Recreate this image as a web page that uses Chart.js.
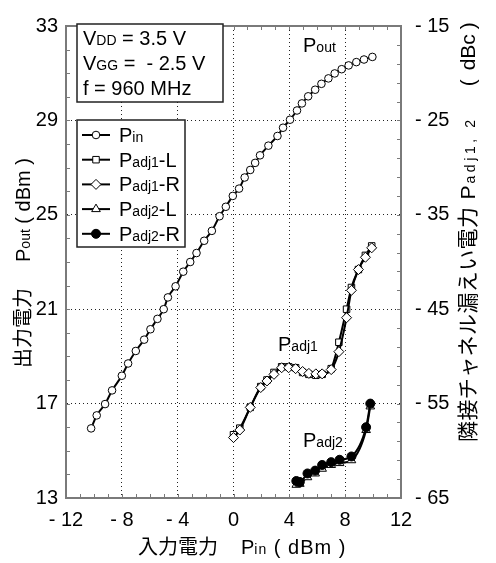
<!DOCTYPE html>
<html>
<head>
<meta charset="utf-8">
<script src="https://cdn.jsdelivr.net/npm/chart.js@4.4.1/dist/chart.umd.min.js"></script>
<style>
    html, body { margin: 0; padding: 0; background: #fff; }
    #wrap { width: 496px; height: 563px; }
</style>
</head>
<body>
<div id="wrap"><canvas id="chart" width="496" height="563"></canvas></div>
<script>
// Pout vs Pin (legend calls it Pin)
const pinOut = [-10.2, -9.8, -9.2, -8.7, -8.0, -7.55, -7.0, -6.4, -5.95, -5.45, -5.0, -4.7, -4.15, -3.6, -3.1,
    -2.65, -2.1, -1.55, -1.0, -0.55, -0.05, 0.4, 0.8, 1.2, 1.55, 1.9, 2.5, 3.15, 3.55, 4.05, 4.55, 4.9,
    5.35, 5.85, 6.3, 6.8, 7.25, 7.75, 8.25, 8.8, 9.35, 9.95];
const pout = [15.95, 16.5, 16.98, 17.56, 18.18, 18.7, 19.23, 19.71, 20.15, 20.59, 21.0, 21.5, 21.97, 22.59, 23.0,
    23.38, 23.9, 24.32, 24.94, 25.34, 25.8, 26.11, 26.58, 26.9, 27.2, 27.52, 27.93, 28.34, 28.69, 29.03, 29.42, 29.72,
    30.02, 30.3, 30.55, 30.78, 30.99, 31.17, 31.33, 31.47, 31.58, 31.69];

// adjacent channel leakage (dBc), right axis
const pinAdj1 = [0.0, 0.45, 1.2, 1.95, 2.4, 2.9, 3.45, 3.95, 4.45, 4.95, 5.4, 5.9, 6.35, 7.0, 7.55, 8.1, 8.45, 8.95, 9.45, 9.9];
const adj1L = [-58.3, -57.6, -55.4, -53.2, -52.5, -51.7, -51.1, -51.1, -51.2, -51.7, -51.9, -52.0, -51.9, -51.3, -48.5, -45.0, -42.7, -40.8, -39.3, -38.3];
const adj1R = [-58.6, -57.8, -55.4, -53.3, -52.6, -51.9, -51.2, -51.2, -51.3, -51.6, -51.8, -51.85, -51.85, -51.4, -49.5, -45.9, -43.0, -40.8, -39.5, -38.5];

const pinAdj2 = [4.5, 4.75, 5.3, 5.85, 6.35, 7.0, 7.6, 8.45, 9.5, 9.8];
const adj2L = [-63.6, -63.5, -62.8, -62.4, -61.9, -61.5, -61.3, -61.0, -57.8, -55.3];
const adj2R = [-63.2, -63.3, -62.4, -62.1, -61.5, -61.2, -60.95, -60.6, -57.5, -55.0];

const xTicks = [-12, -8, -4, 0, 4, 8, 12];
const yTicks = [13, 17, 21, 25, 29, 33];
const y2Ticks = [-65, -55, -45, -35, -25, -15];

const FONT = '"Liberation Sans", "Noto Sans CJK JP", sans-serif';
const FRAME = '#7a7a7a';

const pts = (xs, ys) => xs.map((x, i) => ({ x: x, y: ys[i] }));
const fmt = v => v < 0 ? '- ' + Math.abs(v) : String(v);

// text runs: [text, small?, gapBefore, letterSpacing]; small runs share the baseline
function drawRich(ctx, parts, x, y, size) {
    let cx = x;
    parts.forEach(([t, sub, gap, ls]) => {
        cx += gap || 0;
        ctx.font = (sub ? Math.round(size * 0.68) : size) + 'px ' + FONT;
        ctx.letterSpacing = (ls || 0) + 'px';
        ctx.fillText(t, cx, y);
        cx += ctx.measureText(t).width;
        ctx.letterSpacing = '0px';
    });
}
function drawVertical(ctx, parts, x, y, size) {
    ctx.save();
    ctx.translate(x, y);
    ctx.rotate(-Math.PI / 2);
    drawRich(ctx, parts, 0, 0, size);
    ctx.restore();
}

const series = [
    { label: [['P', 0], ['in', 1]], data: pts(pinOut, pout), axis: 'y', style: 'circle', r: 3.8, fill: '#fff', order: 1 },
    { label: [['P', 0], ['adj1', 1], ['-L', 0]], data: pts(pinAdj1, adj1L), axis: 'y2', style: 'rect', r: 4.6, fill: '#fff', order: 3 },
    { label: [['P', 0], ['adj1', 1], ['-R', 0]], data: pts(pinAdj1, adj1R), axis: 'y2', style: 'rectRot', r: 5, fill: '#fff', order: 2 },
    { label: [['P', 0], ['adj2', 1], ['-L', 0]], data: pts(pinAdj2, adj2L), axis: 'y2', style: 'triangle', r: 5, fill: '#fff', order: 5 },
    { label: [['P', 0], ['adj2', 1], ['-R', 0]], data: pts(pinAdj2, adj2R), axis: 'y2', style: 'circle', r: 4.5, fill: '#000', order: 4 },
];

const frameTicks = {
    id: 'frameTicks',
    afterDraw(chart) {
        const { ctx, chartArea: a, scales } = chart;
        ctx.save();
        ctx.strokeStyle = FRAME;
        ctx.lineWidth = 1;
        ctx.beginPath();
        for (let v = -12; v <= 12; v++) {
            const px = Math.round(scales.x.getPixelForValue(v)) + 0.5;
            ctx.moveTo(px, a.bottom); ctx.lineTo(px, a.bottom - 4);
            ctx.moveTo(px, a.top); ctx.lineTo(px, a.top + 4);
        }
        for (let v = 13; v <= 33; v++) {
            const py = Math.round(scales.y.getPixelForValue(v)) + 0.5;
            ctx.moveTo(a.left, py); ctx.lineTo(a.left + 4, py);
        }
        for (let v = -65; v <= -15; v += 2) {
            const py = Math.round(scales.y2.getPixelForValue(v)) + 0.5;
            ctx.moveTo(a.right, py); ctx.lineTo(a.right - 4, py);
        }
        ctx.stroke();
        ctx.lineWidth = 2;
        ctx.beginPath();
        ctx.moveTo(a.left - 1, a.top); ctx.lineTo(a.right + 1, a.top);
        ctx.stroke();
        ctx.restore();
    }
};

const notes = {
    id: 'notes',
    afterDraw(chart) {
        const ctx = chart.ctx;
        ctx.save();
        ctx.textBaseline = 'alphabetic';
        ctx.textAlign = 'left';

        // conditions box
        ctx.fillStyle = '#fff';
        ctx.fillRect(77, 24, 146, 78);
        ctx.strokeStyle = '#222';
        ctx.lineWidth = 1.5;
        ctx.strokeRect(77, 24, 146, 78);
        ctx.fillStyle = '#000';
        drawRich(ctx, [['V', 0], ['DD', 1], [' = 3.5 V', 0]], 83, 45, 20);
        drawRich(ctx, [['V', 0], ['GG', 1], [' =  - 2.5 V', 0]], 83, 70, 20);
        drawRich(ctx, [['f = 960 MHz', 0]], 83, 95, 20);

        // legend
        ctx.fillStyle = '#fff';
        ctx.fillRect(77, 120, 108, 127);
        ctx.strokeRect(77, 120, 108, 127);
        series.forEach((s, i) => {
            const y = 135 + i * 24.7;
            ctx.strokeStyle = '#000';
            ctx.lineWidth = 2;
            ctx.beginPath(); ctx.moveTo(82, y); ctx.lineTo(110, y); ctx.stroke();
            ctx.lineWidth = 1;
            ctx.fillStyle = s.fill;
            Chart.helpers.drawPoint(ctx, { pointStyle: s.style, radius: s.r, borderWidth: 1, rotation: 0 }, 96, y);
            ctx.fillStyle = '#000';
            drawRich(ctx, s.label, 119, y + 7, 20);
        });

        // curve labels
        drawRich(ctx, [['P', 0], ['out', 1]], 303, 52, 20);
        drawRich(ctx, [['P', 0], ['adj1', 1]], 278, 351, 20);
        drawRich(ctx, [['P', 0], ['adj2', 1]], 303, 447, 20);

        // axis titles
        drawRich(ctx, [['入力電力', 0], ['P', 0, 23], ['in', 1, 0, 1], [' ( dBm )', 0, 0, 1]], 138, 554, 20);
        drawVertical(ctx, [['出力電力', 0], ['P', 0, 26], ['out', 1], [' ( dBm )', 0]], 30, 368, 20);
        drawVertical(ctx, [['隣接チャネル漏えい電力', 0, 0, 0.4], ['P', 0, 7], ['adj1, 2', 1, 2, 3.6],
            ['(', 0, 30], ['dBc', 0, 9], [')', 0, 5]], 475, 442, 21);

        ctx.restore();
    }
};

const gridColor = edge => ctx => (ctx.tick && edge.includes(ctx.tick.value)) ? 'rgba(0,0,0,0)' : '#222';

const axisBase = (ticks, pad) => ({
    type: 'linear',
    afterBuildTicks: s => { s.ticks = ticks.map(v => ({ value: v })); },
    ticks: { color: '#000', font: { family: FONT, size: 20 }, padding: pad, callback: v => fmt(v) },
    border: { display: true, color: FRAME, width: 2, dash: [1, 3] },
});

const datasets = series.map(s => ({
    data: s.data,
    yAxisID: s.axis,
    order: s.order,
    borderColor: '#000',
    borderWidth: 2,
    cubicInterpolationMode: 'monotone',
    pointStyle: s.style,
    pointRadius: s.r,
    pointBackgroundColor: s.fill,
    pointBorderColor: '#000',
    pointBorderWidth: 1,
    fill: false,
}));

new Chart(document.getElementById('chart'), {
    type: 'line',
    data: { datasets: datasets },
    options: {
        responsive: false,
        animation: false,
        devicePixelRatio: 1,
        layout: { padding: { top: 14, left: 0, right: 0, bottom: 0 } },
        plugins: { legend: { display: false }, tooltip: { enabled: false } },
        scales: {
            x: {
                ...axisBase(xTicks, 10),
                position: 'bottom', min: -12, max: 12,
                grid: { color: gridColor([-12, 12]), lineWidth: 1, drawTicks: false },
                afterFit: s => { s.height = 65; },
            },
            y: {
                ...axisBase(yTicks, 8),
                position: 'left', min: 13, max: 33,
                grid: { color: gridColor([13, 33]), lineWidth: 1, drawTicks: false },
                afterFit: s => { s.width = 66; },
            },
            y2: {
                ...axisBase(y2Ticks, 14),
                position: 'right', min: -65, max: -15,
                grid: { drawOnChartArea: false, drawTicks: false },
                afterFit: s => { s.width = 95; },
            },
        },
    },
    plugins: [frameTicks, notes],
});
</script>
</body>
</html>
